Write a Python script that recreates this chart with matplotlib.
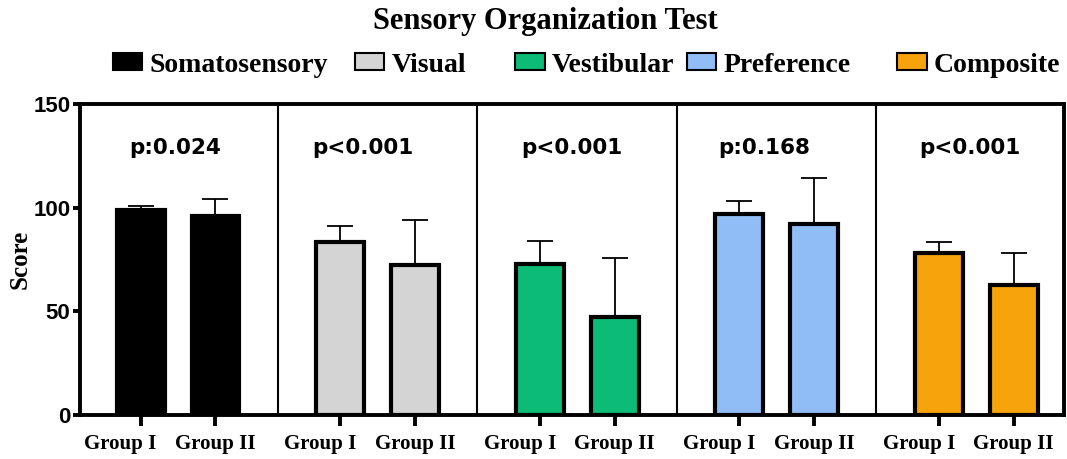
import matplotlib.pyplot as plt
import matplotlib.patches as mpatches
import matplotlib.transforms as mtransforms
import numpy as np

# data
tests = ["Somatosensory", "Visual", "Vestibular", "Preference", "Composite"]
groups = ["Group I", "Group II"]
mean_g1 = [99, 83.3, 72.7, 96.8, 78]
mean_g2 = [96, 72.5, 47.4, 92.1, 62.7]
err_g1 = [2, 8, 11, 6.4, 5.6]
err_g2 = [8, 21.5, 28.5, 22, 15.6]
p_labels = ["p:0.024", "p<0.001", "p<0.001", "p:0.168", "p<0.001"]
colors = ["#000000", "#d4d4d4", "#0bbb76", "#90bdf6", "#f6a30c"]

serif = "Liberation Serif"
sans = "Liberation Sans"

fig = plt.figure(figsize=(10.67, 4.59), dpi=100)
ax = fig.add_axes([0.075, 0.0959, 0.922, 0.6775])

gap = 2.667
width = 0.64
x1 = np.arange(len(tests)) * gap
x2 = x1 + 1

for i in range(len(tests)):
    ax.bar(x1[i], mean_g1[i], width, color=colors[i], edgecolor="black", linewidth=3, zorder=3)
    ax.bar(x2[i], mean_g2[i], width, color=colors[i], edgecolor="black", linewidth=3, zorder=3)
    ax.errorbar([x1[i], x2[i]], [mean_g1[i], mean_g2[i]],
                yerr=[[0, 0], [err_g1[i], err_g2[i]]],
                fmt="none", ecolor="black", elinewidth=1.3, capsize=9.5, capthick=1.3, zorder=2)

# p-values, slightly left of panel centre like the original
p_offset = [-0.04, -0.2, -0.07, -0.17, -0.09]
for i, lab in enumerate(p_labels):
    ax.text(x1[i] + 0.5 + p_offset[i], 129, lab, ha="center", va="center",
            fontsize=15.5, fontweight="bold", family="DejaVu Sans")

# panel dividers
for i in range(1, len(tests)):
    ax.axvline(x1[i] - (gap - 1) / 2, color="black", linewidth=1.5)

ax.set_xlim(-0.81, x2[-1] + 0.67)
ax.set_ylim(0, 150)
ax.set_yticks([0, 50, 100, 150])
ax.set_yticklabels(["0", "50", "100", "150"], fontsize=16, fontweight="bold", family=sans)
ticks = np.ravel(np.column_stack([x1, x2]))
ax.set_xticks(ticks)
ax.set_xticklabels(groups * len(tests), fontsize=15, fontweight="bold", family=serif)
ax.tick_params(axis="x", width=2.8, length=8, direction="out", pad=6)
ax.tick_params(axis="y", width=2.8, length=5, direction="out", pad=2)
for s in ax.spines.values():
    s.set_linewidth(2.8)
ax.set_ylabel("Score", fontsize=18, fontweight="bold", family=serif, labelpad=1)

# "Group I" labels sit a bit left of their ticks in the original
shift = mtransforms.ScaledTranslation(-20 / 100, 0, fig.dpi_scale_trans)
for lab in ax.get_xticklabels()[::2]:
    lab.set_transform(lab.get_transform() + shift)

fig.text(0.511, 0.953, "Sensory Organization Test", ha="center", va="center",
         fontsize=22, fontweight="bold", family=serif)

# legend entries placed one by one to follow the uneven spacing of the original
leg_x = [0.106, 0.333, 0.483, 0.644, 0.841]
for i, name in enumerate(tests):
    h = mpatches.Patch(facecolor=colors[i], edgecolor="black", linewidth=1.5)
    fig.legend([h], [name], loc="center left", bbox_to_anchor=(leg_x[i], 0.858),
               frameon=False, handlelength=1.05, handleheight=0.55, handletextpad=0.25,
               borderaxespad=0, borderpad=0,
               prop={"family": serif, "weight": "bold", "size": 20})

fig.savefig("out.png", dpi=100)
